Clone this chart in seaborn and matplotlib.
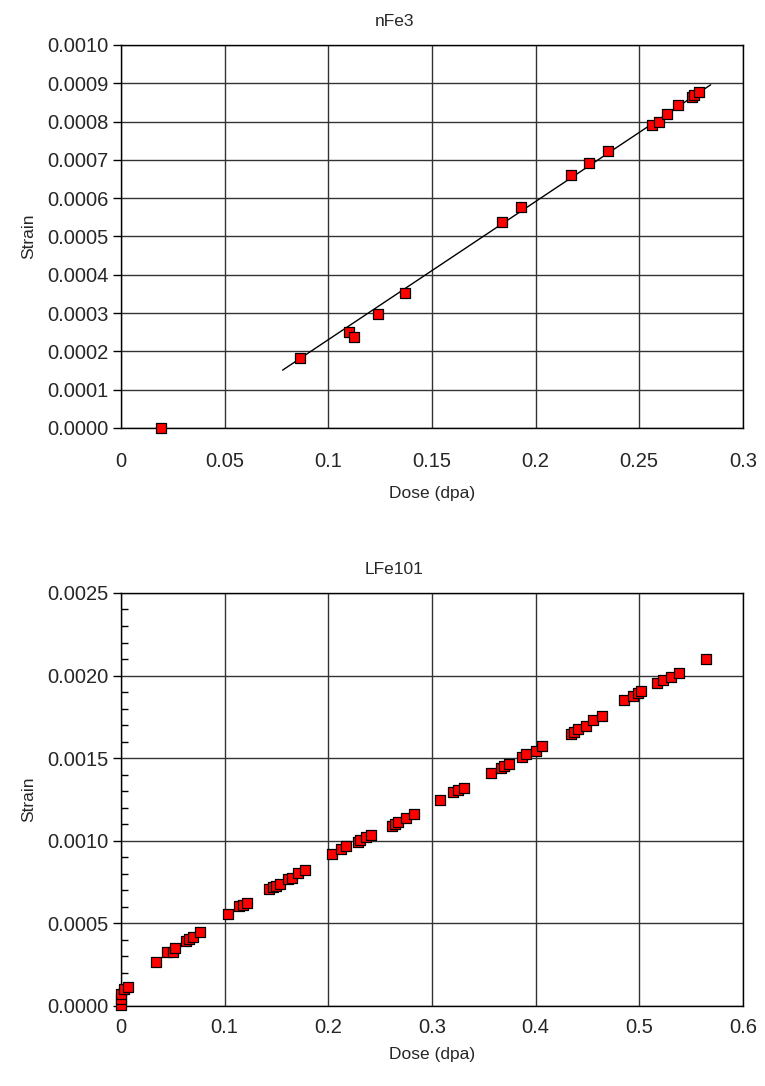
import matplotlib
matplotlib.use("Agg")
import matplotlib.pyplot as plt
import seaborn as sns
import pandas as pd
from matplotlib.ticker import FuncFormatter, MultipleLocator

# ---- data: nFe3 ----
nfe3_dose = [0.0192, 0.0863, 0.1100, 0.1124, 0.1240, 0.1370, 0.1840, 0.1930,
             0.2171, 0.2259, 0.2350, 0.2563, 0.2595, 0.2635, 0.2688, 0.2756,
             0.2765, 0.2788]
nfe3_strain = [0.000000, 0.000183, 0.000251, 0.000238, 0.000298, 0.000352,
               0.000539, 0.000576, 0.000661, 0.000691, 0.000724, 0.000791,
               0.000798, 0.000819, 0.000843, 0.000863, 0.000869, 0.000878]
fit_dose = [0.078, 0.2845]
fit_strain = [0.000151, 0.000896]

# ---- data: LFe101 ----
lfe_dose = [0.0000, 0.0002, 0.0003, 0.0033, 0.0065, 0.0340, 0.0442, 0.0505,
            0.0519, 0.0627, 0.0658, 0.0697, 0.0761, 0.1032, 0.1144, 0.1175,
            0.1217, 0.1431, 0.1469, 0.1500, 0.1533, 0.1610, 0.1654, 0.1711,
            0.1778, 0.2036, 0.2126, 0.2174, 0.2285, 0.2311, 0.2368, 0.2413,
            0.2617, 0.2649, 0.2675, 0.2754, 0.2825, 0.3083, 0.3201, 0.3249,
            0.3306, 0.3568, 0.3670, 0.3696, 0.3746, 0.3866, 0.3912, 0.4008,
            0.4065, 0.4340, 0.4371, 0.4413, 0.4486, 0.4550, 0.4639, 0.4856,
            0.4940, 0.4987, 0.5022, 0.5175, 0.5233, 0.5309, 0.5383, 0.5641]
lfe_strain = [0.000004, 0.000045, 0.000075, 0.000100, 0.000112, 0.000265,
              0.000324, 0.000324, 0.000352, 0.000391, 0.000407, 0.000417,
              0.000447, 0.000555, 0.000603, 0.000611, 0.000621, 0.000708,
              0.000722, 0.000726, 0.000738, 0.000767, 0.000777, 0.000803,
              0.000822, 0.000919, 0.000949, 0.000967, 0.000993, 0.001006,
              0.001024, 0.001034, 0.001092, 0.001103, 0.001113, 0.001135,
              0.001159, 0.001246, 0.001295, 0.001305, 0.001321, 0.001410,
              0.001438, 0.001455, 0.001467, 0.001506, 0.001523, 0.001545,
              0.001572, 0.001649, 0.001657, 0.001677, 0.001697, 0.001728,
              0.001754, 0.001853, 0.001879, 0.001895, 0.001909, 0.001956,
              0.001976, 0.001994, 0.002015, 0.002102]

sns.set_style("white")
plt.rcParams['font.family'] = ['Liberation Sans', 'DejaVu Sans']
plt.rcParams['font.size'] = 12

fig = plt.figure(figsize=(7.65, 10.86), dpi=100)
ax1 = fig.add_axes([0.158, 0.6059, 0.813, 0.3527])
ax2 = fig.add_axes([0.158, 0.0737, 0.813, 0.3803])

gfmt = FuncFormatter(lambda v, p: f"{v:g}")
yfmt = FuncFormatter(lambda v, p: f"{v:.4f}")

TICK_FS = 14.5
LABEL_FS = 12.5

def style(ax, xpad):
    for s in ax.spines.values():
        s.set_color("black")
        s.set_linewidth(1.0)
    ax.grid(True, color="#333333", linewidth=1.0)
    ax.set_axisbelow(True)
    ax.tick_params(axis='x', which='major', length=0, pad=xpad, labelsize=TICK_FS)
    ax.tick_params(axis='y', which='major', length=6, direction='out',
                   width=1, color='black', labelsize=TICK_FS, pad=3, left=True)
    ax.yaxis.set_major_formatter(yfmt)
    ax.xaxis.set_major_formatter(gfmt)

df1 = pd.DataFrame({"dose": nfe3_dose, "strain": nfe3_strain})
ax1.plot(fit_dose, fit_strain, color="black", linewidth=1.0, zorder=2)
sns.scatterplot(data=df1, x="dose", y="strain", ax=ax1, marker="s", s=48,
                color="#ff0000", edgecolor="black", linewidth=0.9, zorder=3,
                clip_on=False)
ax1.set_xlim(0, 0.3)
ax1.set_ylim(0, 0.001)
ax1.xaxis.set_major_locator(MultipleLocator(0.05))
ax1.yaxis.set_major_locator(MultipleLocator(0.0001))
style(ax1, 17)
ax1.set_title("nFe3", fontsize=LABEL_FS, pad=14, x=0.44)
ax1.set_xlabel("Dose (dpa)", fontsize=LABEL_FS, labelpad=11)
ax1.set_ylabel("Strain", fontsize=LABEL_FS, labelpad=8)

df2 = pd.DataFrame({"dose": lfe_dose, "strain": lfe_strain})
sns.scatterplot(data=df2, x="dose", y="strain", ax=ax2, marker="s", s=48,
                color="#ff0000", edgecolor="black", linewidth=0.9, zorder=3,
                clip_on=False)
ax2.set_xlim(0, 0.6)
ax2.set_ylim(0, 0.0025)
ax2.xaxis.set_major_locator(MultipleLocator(0.1))
ax2.yaxis.set_major_locator(MultipleLocator(0.0005))
ax2.yaxis.set_minor_locator(MultipleLocator(0.0001))
style(ax2, 9)
ax2.tick_params(axis='y', which='minor', length=5, direction='in',
                width=1, color='black', left=True)
ax2.set_title("LFe101", fontsize=LABEL_FS, pad=14, x=0.44)
ax2.set_xlabel("Dose (dpa)", fontsize=LABEL_FS, labelpad=7)
ax2.set_ylabel("Strain", fontsize=LABEL_FS, labelpad=8)

fig.savefig("out.png", dpi=100)
